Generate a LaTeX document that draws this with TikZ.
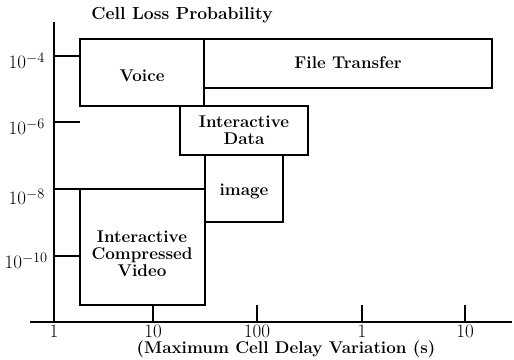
\documentclass[tikz,border=0pt]{standalone}
\begin{document}
\begin{tikzpicture}[x=1pt,y=-1pt,
  ln/.style={line width=1.5pt},
  lbl/.style={font=\fontsize{17}{17}\selectfont\bfseries, align=center, inner sep=0pt},
  num/.style={font=\fontsize{19}{20}\selectfont, inner sep=0pt},
  ttl/.style={font=\fontsize{17.5}{19}\selectfont\bfseries, inner sep=0pt}]
\useasboundingbox (0,0) rectangle (514,359);
% axes
\coordinate (ytop) at (54,22);
\coordinate (orig) at (54,322);
\coordinate (xleft) at (30,322);
\coordinate (xright) at (512,322);
\draw[ln] (ytop) -- (orig);
\draw[ln] (xleft) -- (xright);
% boxes
\draw[ln] (80,39) rectangle (204,106);
\draw[ln] (204,39) rectangle (492,88);
\draw[ln] (180,106) rectangle (308,155);
\draw[ln] (205,155) rectangle (283,222);
\draw[ln] (80,189) rectangle (205,305);
% y ticks
\draw[ln] (54,56) -- (80,56);
\draw[ln] (54,122) -- (80,122);
\draw[ln] (54,189) -- (80,189);
\draw[ln] (54,256) -- (80,256);
% x ticks
\draw[ln] (153,305) -- (153,322);
\draw[ln] (257,305) -- (257,322);
\draw[ln] (362,305) -- (362,322);
\draw[ln] (465,305) -- (465,322);
% box labels
\node[lbl] (voice) at (142,76) {Voice};
\node[lbl] (file) at (348,63) {File Transfer};
\node[lbl] (idata) at (244,130) {Interactive\\Data};
\node[lbl] (img) at (244,191) {image};
\node[lbl] (video) at (142,254) {Interactive\\Compressed\\Video};
% y labels
\node[num, anchor=east] (y4) at (45,61) {10$^{-4}$};
\node[num, anchor=east] (y6) at (45,127) {10$^{-6}$};
\node[num, anchor=east] (y8) at (45,197) {10$^{-8}$};
\node[num, anchor=east] (y10) at (48,261) {10$^{-10}$};
% x labels
\node[num] (x1) at (54,331) {1};
\node[num] (x10) at (153,331) {10};
\node[num] (x100) at (257,331) {100};
\node[num] (x1s) at (362,331) {1};
\node[num] (x10s) at (465,331) {10};
\node[lbl] (xt) at (286,349) {(Maximum Cell Delay Variation (s)};
\node[ttl] (yt) at (182,15) {Cell Loss Probability};
\end{tikzpicture}
\end{document}
